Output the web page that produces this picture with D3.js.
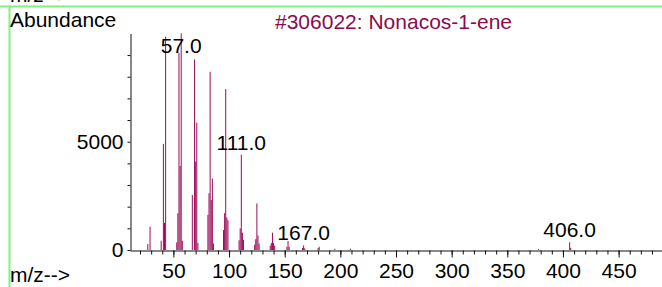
<!DOCTYPE html>
<html>
<head>
<meta charset="utf-8">
<script src="https://cdn.jsdelivr.net/npm/d3@7"></script>
<style>
  body { margin: 0; background: #fff; }
  svg { display: block; font-family: "Liberation Sans", Arial, sans-serif; }
</style>
</head>
<body>
<svg id="chart" width="662" height="287"></svg>
<script>
// Spectrum values
var mz        = [27, 29, 39, 41, 42, 43, 53, 54, 55, 56, 57, 58, 67, 69, 70, 71, 72,
                 81, 82, 83, 84, 85, 86, 95, 96, 97, 98, 99, 109, 110, 111, 112, 113,
                 123, 124, 125, 126, 127, 137, 138, 139, 140, 141, 152, 153, 154,
                 166, 167, 168, 180, 181, 195, 209, 378, 406, 407];
var abundance = [280, 1075, 430, 4900, 1250, 9850, 350, 1700, 9100, 3880, 10000, 430, 2540, 8800, 4080, 5880, 330,
                 1620, 2620, 8230, 2310, 3300, 300, 920, 1700, 7430, 1500, 1380, 450, 1000, 4400, 800, 460,
                 250, 500, 2150, 670, 300, 200, 320, 800, 320, 200, 150, 415, 150,
                 100, 215, 80, 90, 150, 60, 60, 40, 355, 100];
var peakLabels = [57, 111, 167, 406];
var yTickLabels = [0, 5000];
var xTickLabels = [50, 100, 150, 200, 250, 300, 350, 400, 450];

var title = "#306022: Nonacos-1-ene";
var barColor = "#9c0c58";
var font = 21;

var svg = d3.select("#chart");

// frame lines
svg.append("line").attr("x1", 0).attr("x2", 662).attr("y1", 6.5).attr("y2", 6.5)
  .style("stroke", "#80f080").style("stroke-width", 2);
svg.append("line").attr("x1", 9.5).attr("x2", 9.5).attr("y1", 6).attr("y2", 287)
  .style("stroke", "#80f080").style("stroke-width", 2);

// Scales
var x = d3.scaleLinear().domain([11, 489]).range([130, 662]);
var y = d3.scaleLinear().domain([0, 10000]).range([250, 33.4]);

// bars
svg.append("g").selectAll("rect")
  .data(mz)
  .enter().append("rect")
  .attr("x", function(d) { return x(d) - 0.5; })
  .attr("width", 1)
  .attr("y", function(d, i) { return y(abundance[i]); })
  .attr("height", function(d, i) { return y(0) - y(abundance[i]); })
  .style("fill", barColor);

// x axis, minor and major ticks
var gx = svg.append("g").attr("transform", "translate(0,250.5)");
gx.call(d3.axisBottom(x).tickValues(d3.range(20, 490, 10)).tickSize(4).tickSizeOuter(0).tickFormat(""));
svg.append("g").attr("transform", "translate(0,250.5)")
  .call(d3.axisBottom(x).tickValues(xTickLabels).tickSize(7).tickSizeOuter(0).tickPadding(6))
  .call(function(g) { g.select(".domain").remove(); });

// y axis
svg.append("g").attr("transform", "translate(130.5,0)")
  .call(d3.axisLeft(y).tickValues(d3.range(0, 10000, 1000)).tickSize(3).tickSizeOuter(0).tickPadding(4)
    .tickFormat(function(d) { return yTickLabels.indexOf(d) >= 0 ? d : ""; }));

svg.selectAll(".tick text").style("font-size", font + "px").style("fill", "#000")
  .style("font-family", '"Liberation Sans", Arial, sans-serif');
svg.selectAll(".domain, .tick line").style("stroke", "#111");

// peak labels
peakLabels.forEach(function(m) {
  var v = abundance[mz.indexOf(m)];
  svg.append("text")
    .attr("x", x(m))
    .attr("y", Math.max(y(v) - 5, 53))
    .attr("text-anchor", "middle")
    .style("font-size", font + "px")
    .text(m.toFixed(1));
});

// annotations
svg.append("text").attr("x", 10).attr("y", 2).style("font-size", font + "px").text("m/z-->");
svg.append("text").attr("x", 10).attr("y", 26.5).style("font-size", font + "px").text("Abundance");
svg.append("text").attr("x", 275).attr("y", 29).style("font-size", font + "px")
  .style("fill", "#8b0a4f").text(title);
svg.append("text").attr("x", 10).attr("y", 282).style("font-size", font + "px").text("m/z-->");
</script>
</body>
</html>
